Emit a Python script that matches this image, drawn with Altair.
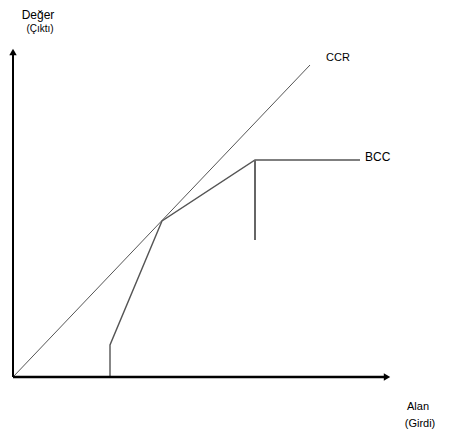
import altair as alt
import pandas as pd

# Schematic values (abstract input/output units)
ccr_x = [0, 297]
ccr_y = [0, 312]
bcc_x = [97, 97, 149, 242, 347]
bcc_y = [0, 32, 156, 217, 217]
drop_x = [242, 242]
drop_y = [217, 137]
axis_x_end = 379
axis_y_end = 330

X = alt.Scale(domain=[-5, 441], nice=False, zero=False)
Y = alt.Scale(domain=[-62, 369], nice=False, zero=False)

ccr = pd.DataFrame({"x": ccr_x, "y": ccr_y})
bcc = pd.DataFrame({"x": bcc_x, "y": bcc_y, "o": list(range(len(bcc_x)))})
drop = pd.DataFrame({"x": drop_x, "y": drop_y})
xaxis = pd.DataFrame({"x": [0, axis_x_end - 6], "y": [0, 0]})
yaxis = pd.DataFrame({"x": [0, 0], "y": [0, axis_y_end - 6]})
arrows = pd.DataFrame({"x": [axis_x_end - 5, 0], "y": [0, axis_y_end - 5],
                       "s": ["triangle-right", "triangle-up"]})

def enc(ch):
    return ch.encode(x=alt.X("x:Q", scale=X, axis=None),
                     y=alt.Y("y:Q", scale=Y, axis=None))

base_font = "Liberation Sans"

l_ccr = enc(alt.Chart(ccr).mark_line(color="#555555", strokeWidth=1))
l_bcc = alt.Chart(bcc).mark_line(color="#555555", strokeWidth=1.4).encode(
    x=alt.X("x:Q", scale=X, axis=None), y=alt.Y("y:Q", scale=Y, axis=None), order="o:Q")
l_drop = enc(alt.Chart(drop).mark_line(color="#666666", strokeWidth=2))
l_xa = enc(alt.Chart(xaxis).mark_line(color="black", strokeWidth=2.5))
l_ya = enc(alt.Chart(yaxis).mark_line(color="black", strokeWidth=2))
l_arr = alt.Chart(arrows).mark_point(filled=True, color="black", size=55, opacity=1).encode(
    x=alt.X("x:Q", scale=X, axis=None), y=alt.Y("y:Q", scale=Y, axis=None),
    shape=alt.Shape("s:N", scale=None))

labels = pd.DataFrame({
    "x": [25, 27, 405, 407, 325],
    "y": [362, 348, -30, -47, 319],
    "t": ["Değer", "(Çıktı)", "Alan", "(Girdi)", "CCR"],
    "sz": [12, 10, 11, 11, 11],
})
t_lab = alt.Chart(labels).mark_text(font=base_font, color="black", align="center",
                                    baseline="middle").encode(
    x=alt.X("x:Q", scale=X, axis=None), y=alt.Y("y:Q", scale=Y, axis=None),
    text="t:N", size=alt.Size("sz:Q", scale=None, legend=None))
bcc_lab = pd.DataFrame({"x": [352], "y": [220], "t": ["BCC"]})
t_bcc = alt.Chart(bcc_lab).mark_text(font=base_font, color="black", align="left",
                                     baseline="middle", fontSize=12).encode(
    x=alt.X("x:Q", scale=X, axis=None), y=alt.Y("y:Q", scale=Y, axis=None), text="t:N")

chart = alt.layer(l_ccr, l_bcc, l_drop, l_xa, l_ya, l_arr, t_lab, t_bcc).properties(
    width=446, height=431, padding=0, autosize=alt.AutoSizeParams(type="none"),
    background="white"
).configure_view(stroke=None)

chart.save("out.html", embed_options={"renderer": "svg", "actions": False})
